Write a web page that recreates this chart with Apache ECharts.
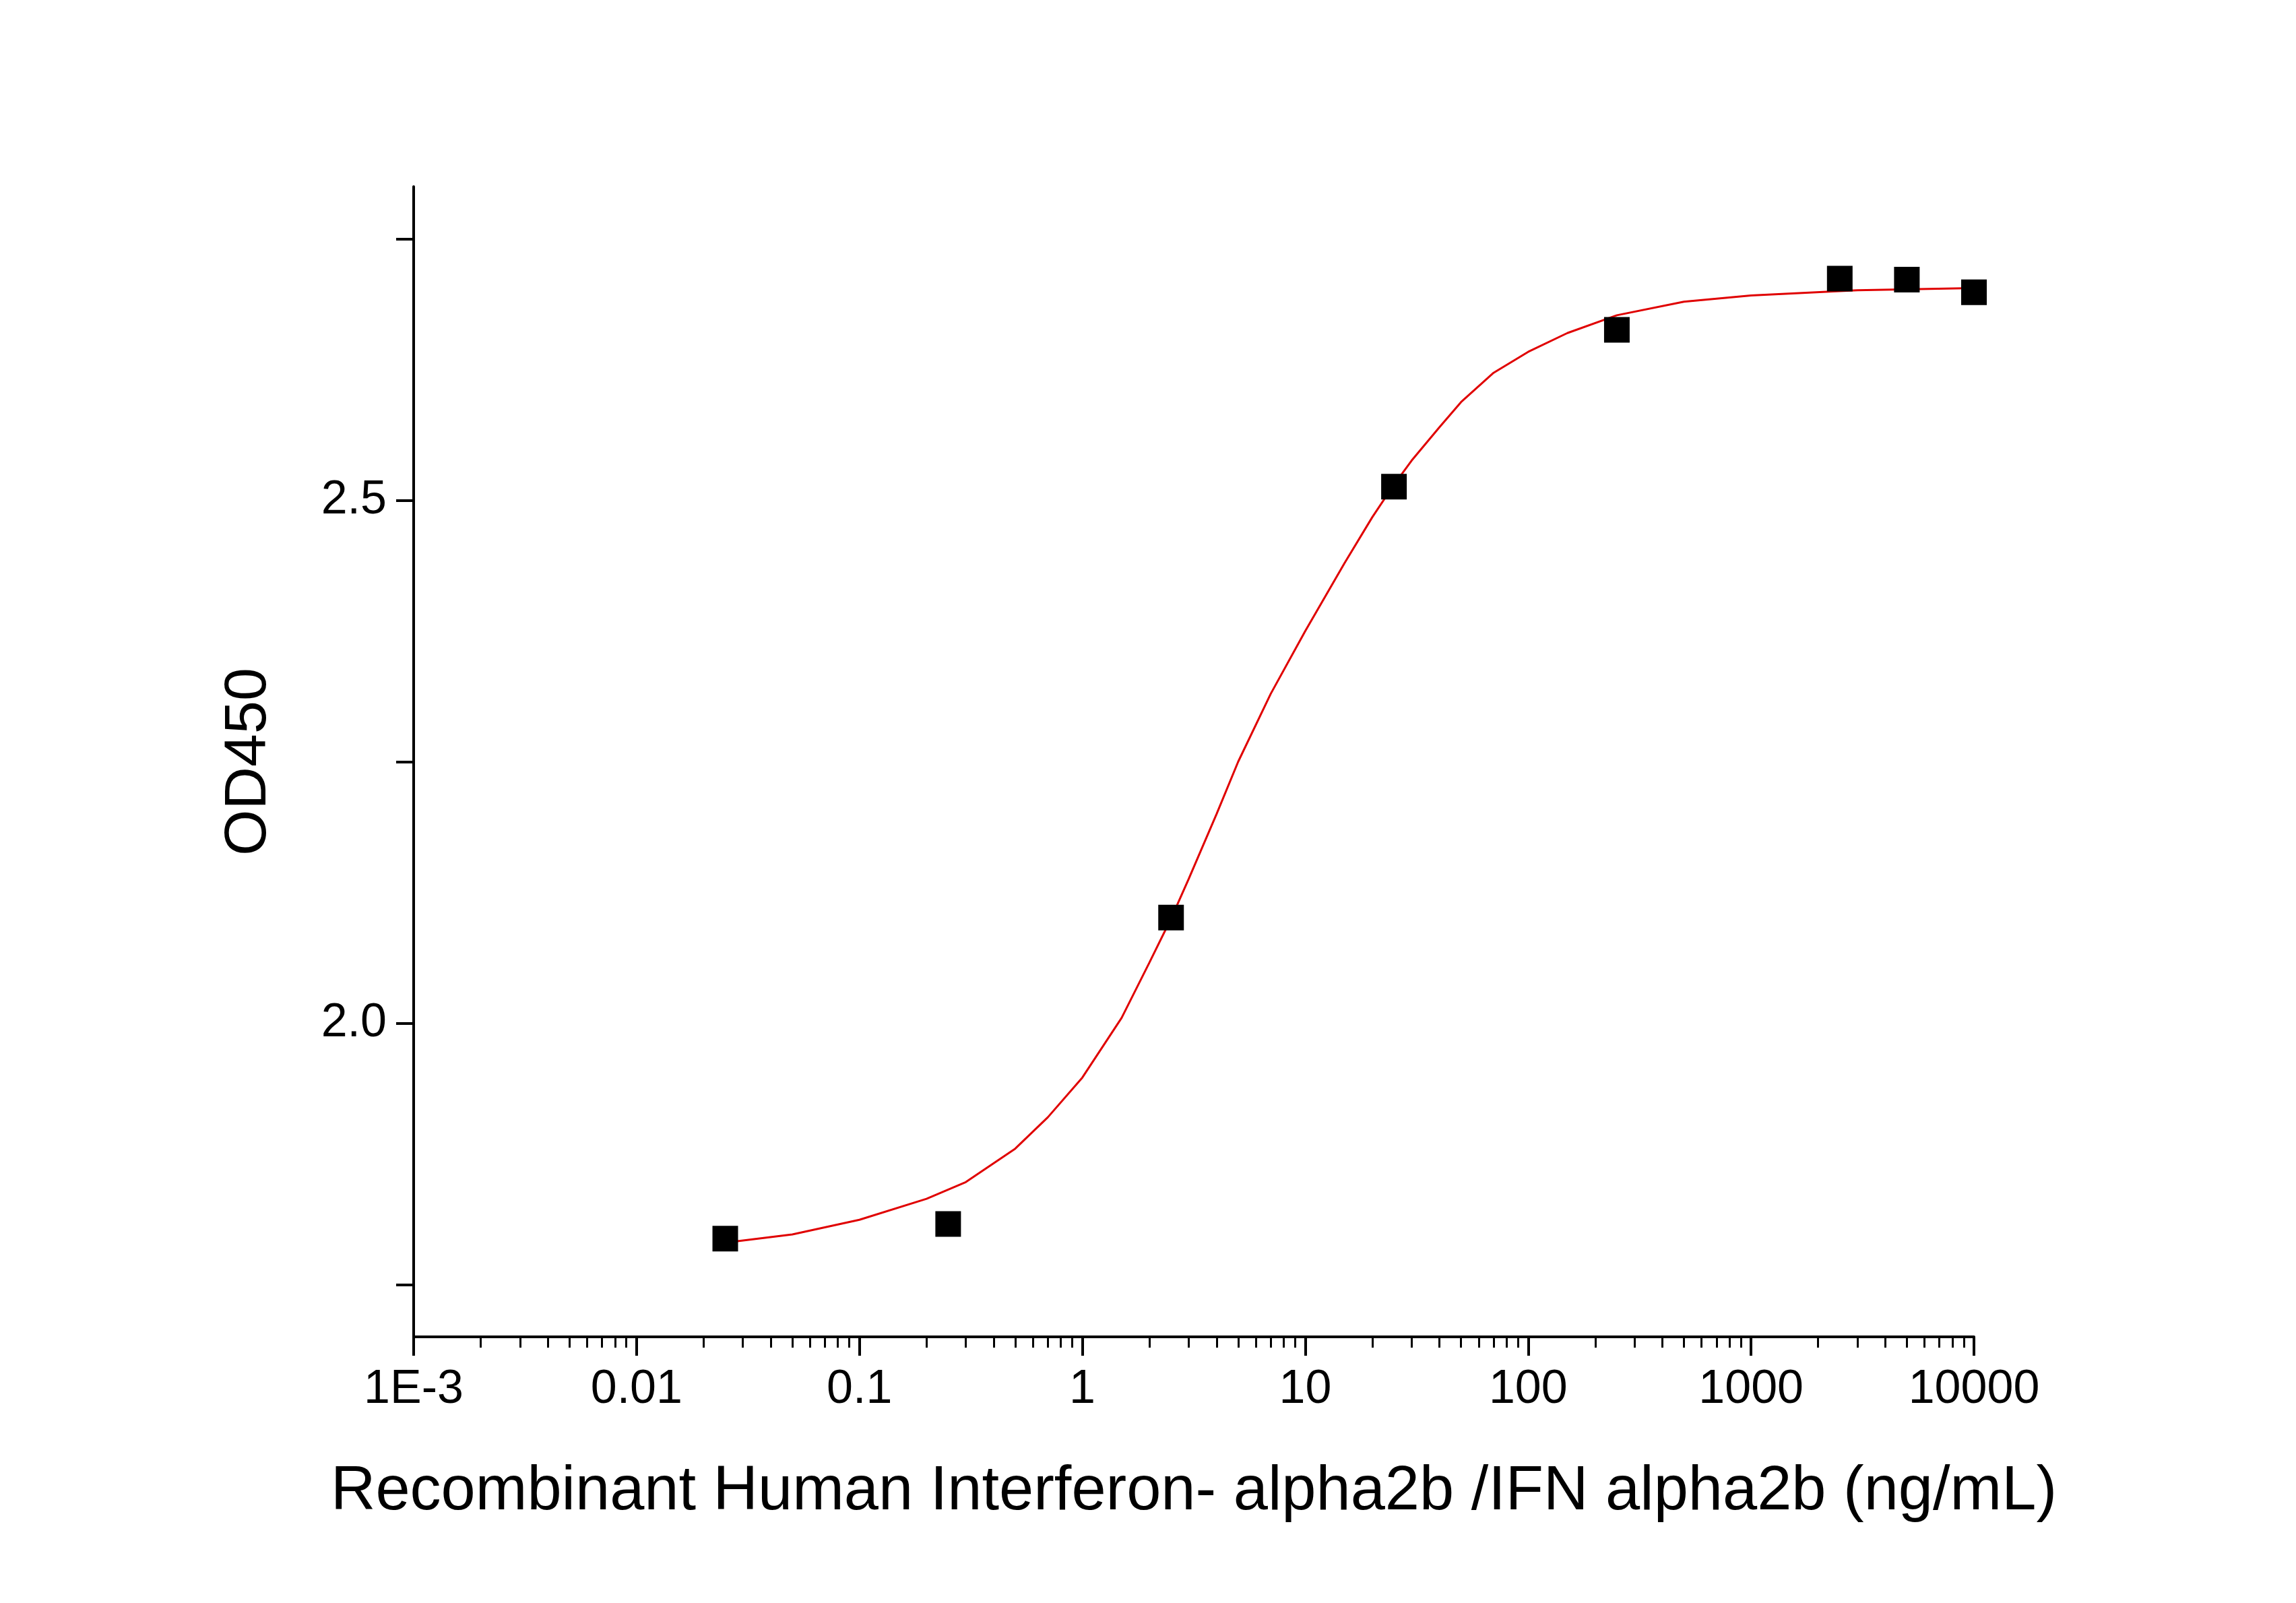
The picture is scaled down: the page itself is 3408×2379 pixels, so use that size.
<!DOCTYPE html>
<html>
<head>
<meta charset="utf-8"/>
<title></title>
<script src="https://cdn.jsdelivr.net/npm/echarts@6/dist/echarts.min.js"></script>
</head>
<body style="margin:0;background:#fff;">
<div id="main" style="width:3408px;height:2379px;"></div>
<script type="text/javascript">
// measured points
var conc = [0.025, 0.25, 2.5, 25, 250, 2500, 5000, 10000];
var od = [1.794, 1.808, 2.101, 2.513, 2.663, 2.712, 2.711, 2.699];
// fitted curve
var fitX = [0.025, 0.05, 0.1, 0.2, 0.3, 0.5, 0.7, 1, 1.5, 2, 2.5, 3, 4, 5, 7, 10, 15, 20, 25, 30, 40, 50, 70, 100, 150, 250, 500, 1000, 3000, 10000];
var fitY = [1.790, 1.798, 1.812, 1.832, 1.848, 1.880, 1.910, 1.948, 2.005, 2.058, 2.100, 2.138, 2.200, 2.250, 2.315, 2.375, 2.440, 2.484, 2.515, 2.538, 2.570, 2.594, 2.622, 2.642, 2.660, 2.677, 2.690, 2.696, 2.701, 2.703];
var yTicks = [1.75, 2.0, 2.25, 2.5, 2.75];
var yLabels = [2.0, 2.5];

var fitData = fitX.map(function (x, i) { return [x, fitY[i]]; });
var ptData = conc.map(function (x, i) { return [x, od[i]]; });

var myChart = echarts.init(document.getElementById('main'));
var option = {
    backgroundColor: '#fff',
    animation: false,
    grid: { left: 614, right: 478, top: 277, bottom: 395 },
    xAxis: {
        type: 'log', logBase: 10, min: 0.001, max: 10000,
        name: 'Recombinant Human Interferon- alpha2b /IFN alpha2b (ng/mL)',
        nameLocation: 'middle', nameGap: 185,
        nameTextStyle: { fontFamily: 'Liberation Sans', fontSize: 92, color: '#000' },
        axisLine: { lineStyle: { color: '#000', width: 4 } },
        axisTick: { length: 28, lineStyle: { color: '#000', width: 4 } },
        minorTick: { show: true, splitNumber: 9, length: 16, lineStyle: { color: '#000', width: 3 } },
        axisLabel: {
            fontFamily: 'Liberation Sans', fontSize: 70, color: '#000', margin: 44,
            formatter: function (v) { return v === 0.001 ? '1E-3' : String(+v.toPrecision(6)); }
        },
        splitLine: { show: false }
    },
    yAxis: {
        type: 'value', min: 1.7, max: 2.8,
        name: 'OD450', nameLocation: 'middle', nameGap: 200,
        nameTextStyle: { fontFamily: 'Liberation Sans', fontSize: 88, color: '#000' },
        axisLine: { show: true, lineStyle: { color: '#000', width: 4 } },
        axisTick: { show: true, length: 26, customValues: yTicks, lineStyle: { color: '#000', width: 4 } },
        axisLabel: {
            fontFamily: 'Liberation Sans', fontSize: 70, color: '#000', margin: 40,
            customValues: yLabels,
            formatter: function (v) { return v.toFixed(1); }
        },
        splitLine: { show: false }
    },
    series: [{
        type: 'line', data: fitData, smooth: false, showSymbol: false,
        lineStyle: { color: '#e00000', width: 3 }, z: 2
    }, {
        type: 'scatter', data: ptData, symbol: 'rect', symbolSize: 38,
        itemStyle: { color: '#000', opacity: 1 }, z: 3
    }]
};
myChart.setOption(option);
</script>
</body>
</html>
